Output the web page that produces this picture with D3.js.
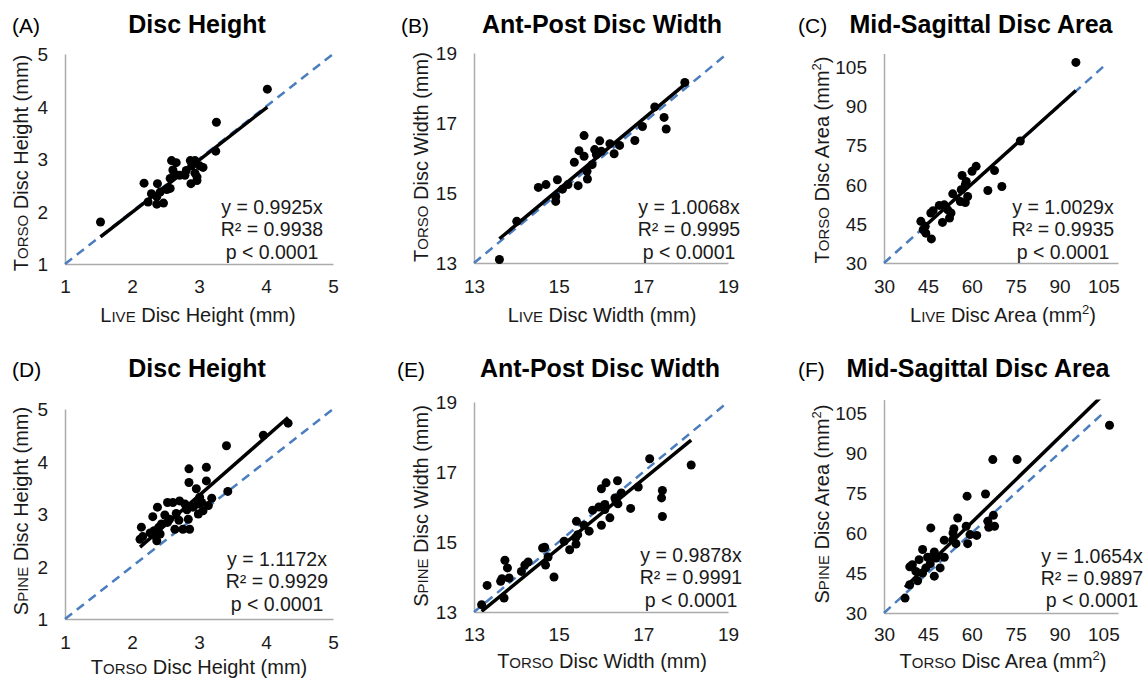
<!DOCTYPE html>
<html>
<head>
<meta charset="utf-8">
<script src="https://cdn.jsdelivr.net/npm/d3@7"></script>
<style>
  html, body { margin: 0; padding: 0; background: #fff; }
  svg { display: block; font-family: "Liberation Sans", Arial, sans-serif; }
</style>
</head>
<body>
<svg id="chart" width="1148" height="682"></svg>
<script>
// ---------- DATA ----------
const panelLetters = ["(A)", "(B)", "(C)", "(D)", "(E)", "(F)"];
const panelTitles = ["Disc Height", "Ant-Post Disc Width", "Mid-Sagittal Disc Area",
                     "Disc Height", "Ant-Post Disc Width", "Mid-Sagittal Disc Area"];
const slopes = [0.9925, 1.0068, 1.0029, 1.1172, 0.9878, 1.0654];
const rSquared = ["0.9938", "0.9995", "0.9935", "0.9929", "0.9991", "0.9897"];
const pText = "p < 0.0001";

const ticksHeight = [1, 2, 3, 4, 5];
const ticksWidth = [13, 15, 17, 19];
const ticksArea = [30, 45, 60, 75, 90, 105];
const domainHeight = [1, 5];
const domainWidth = [13, 19];
const domainArea = [30, 110];
const identityHeight = [1, 5];
const identityWidth = [13, 19];
const identityArea = [30, 105];

// (A) Live vs Torso disc height
const aLive  = [1.53, 2.18, 2.38, 2.24, 2.37, 2.47, 2.29, 2.42, 2.52, 2.57, 2.57, 2.61, 2.59, 2.66, 2.71, 2.79, 2.87, 2.94, 2.88, 2.97, 2.97, 3.01, 3.06, 2.89, 2.81, 2.37, 3.25, 3.26, 4.02, 2.63, 2.94];
const aTorso = [1.80, 2.54, 2.53, 2.18, 2.14, 2.16, 2.34, 2.37, 2.42, 2.44, 2.63, 2.79, 2.97, 2.93, 2.69, 2.69, 2.97, 2.97, 2.53, 2.66, 2.59, 2.87, 2.84, 2.87, 2.78, 2.28, 3.15, 3.70, 4.33, 2.72, 2.73];
// (B) Live vs Torso disc width
const bLive  = [13.60, 14.01, 14.52, 14.70, 14.97, 14.93, 14.93, 15.09, 15.22, 15.37, 15.46, 15.48, 15.60, 15.60, 15.67, 15.68, 15.79, 15.85, 15.89, 15.97, 16.01, 16.21, 16.31, 16.44, 16.80, 16.98, 17.27, 17.49, 17.54, 17.98];
const bTorso = [13.10, 14.19, 15.16, 15.24, 15.38, 14.90, 14.76, 15.11, 15.24, 15.88, 15.21, 16.21, 16.05, 16.64, 15.62, 15.40, 15.81, 16.24, 16.10, 16.49, 16.19, 16.41, 16.12, 16.36, 16.50, 16.90, 17.46, 17.16, 16.83, 18.16];
// (C) Live vs Torso disc area
const cLive  = [95.6, 76.6, 67.8, 65.5, 70.3, 61.5, 60.1, 56.7, 58.1, 57.8, 56.4, 58.6, 57.8, 56.1, 53.5, 52.9, 52.4, 50.6, 48.9, 50.0, 46.8, 46.0, 42.6, 43.4, 44.3, 46.2, 44.1, 51.8];
const cTorso = [106.6, 76.6, 65.3, 57.7, 59.2, 66.9, 65.0, 63.4, 61.1, 59.9, 58.0, 55.4, 53.1, 53.5, 56.4, 49.1, 47.2, 52.2, 52.0, 45.5, 50.0, 49.1, 45.9, 42.7, 41.4, 39.2, 44.0, 50.3];
// (D) Torso vs Spine disc height
const dTorso = [2.14, 2.12, 2.16, 2.31, 2.38, 2.33, 2.34, 2.37, 2.42, 2.44, 2.49, 2.53, 2.53, 2.61, 2.66, 2.71, 2.64, 2.76, 2.79, 2.85, 2.85, 2.84, 2.86, 2.96, 2.91, 2.98, 3.01, 2.99, 3.06, 3.11, 3.11, 3.14, 3.19, 3.41, 3.43, 3.96, 4.33, 2.27, 2.40, 2.56, 2.70, 2.82, 3.04];
const dSpine = [2.75, 2.52, 2.57, 2.95, 3.13, 2.68, 2.59, 2.49, 2.62, 2.81, 2.98, 2.84, 3.22, 3.22, 3.01, 3.25, 2.71, 2.71, 3.19, 3.86, 3.60, 2.90, 2.71, 3.48, 3.13, 3.19, 3.32, 3.00, 3.06, 3.89, 3.63, 3.16, 3.30, 4.30, 3.43, 4.50, 4.73, 2.64, 2.75, 2.90, 2.88, 3.08, 3.22];
// (E) Torso vs Spine disc width
const eTorso = [13.18, 13.31, 13.63, 13.73, 13.79, 13.83, 13.71, 14.12, 14.20, 14.28, 14.62, 14.67, 14.69, 14.75, 14.89, 15.13, 15.26, 15.41, 15.42, 15.45, 15.60, 15.72, 15.80, 16.01, 16.01, 16.12, 16.09, 16.09, 16.21, 16.33, 16.39, 16.40, 16.48, 16.70, 16.88, 17.15, 17.43, 17.45, 17.45, 18.13, 13.66, 15.40, 16.35, 15.95];
const eSpine = [13.21, 13.76, 13.88, 14.48, 14.26, 13.97, 13.40, 14.16, 14.34, 14.43, 14.83, 14.85, 14.34, 14.57, 14.00, 15.02, 14.78, 14.94, 15.59, 15.21, 15.48, 15.31, 15.91, 15.48, 16.52, 16.69, 16.07, 15.93, 15.69, 16.26, 16.75, 16.09, 16.40, 15.96, 16.57, 17.38, 16.26, 16.47, 15.73, 17.20, 13.95, 15.12, 16.18, 16.00];
// (F) Torso vs Spine disc area
const fTorso = [107.1, 67.2, 75.5, 58.4, 64.7, 46.0, 55.2, 58.1, 53.9, 53.6, 59.4, 61.7, 58.6, 54.6, 53.5, 50.6, 65.5, 65.8, 67.8, 67.4, 43.2, 39.7, 38.8, 42.0, 44.9, 47.2, 46.6, 47.8, 50.6, 49.2, 45.8, 44.3, 43.2, 41.5, 47.2, 38.8, 37.2, 40.9];
const fSpine = [100.4, 87.5, 87.5, 73.8, 74.6, 61.9, 65.6, 62.5, 61.6, 60.0, 59.4, 59.1, 56.0, 56.0, 57.5, 57.3, 64.4, 62.1, 62.5, 66.6, 53.8, 48.1, 47.3, 50.0, 50.9, 52.9, 51.3, 50.6, 50.9, 46.9, 48.5, 46.9, 45.0, 42.1, 43.8, 40.6, 35.6, 45.6];

// axis label text parts: [small-caps word, rest, has superscript]
const xLabels = [["Live", " Disc Height (mm", false], ["Live", " Disc Width (mm", false], ["Live", " Disc Area (mm", true],
                 ["Torso", " Disc Height (mm", false], ["Torso", " Disc Width (mm", false], ["Torso", " Disc Area (mm", true]];
const yLabels = [["Torso", " Disc Height (mm", false], ["Torso", " Disc Width (mm", false], ["Torso", " Disc Area (mm", true],
                 ["Spine", " Disc Height (mm", false], ["Spine", " Disc Width (mm", false], ["Spine", " Disc Area (mm", true]];

// ---------- LAYOUT ----------
const FONT = '"Liberation Sans", Arial, sans-serif';
const layout = [
  {px: [65, 333],  py: [264, 54],  titleX: 197, titleY: 33, letterX: 12,  letterY: 33, yLabX: 28,  yLabY: 163, xLabX: 198, xLabY: 322, xTickY: 293, annX: 272, annY: [214, 236, 259]},
  {px: [474, 728], py: [263, 53],  titleX: 602, titleY: 33, letterX: 401, letterY: 33, yLabX: 428, yLabY: 157, xLabX: 602, xLabY: 322, xTickY: 293, annX: 689, annY: [214, 236, 259]},
  {px: [884, 1118],py: [263, 53.5],titleX: 981, titleY: 33, letterX: 798, letterY: 33, yLabX: 829, yLabY: 160, xLabX: 1003,xLabY: 322, xTickY: 293, annX: 1063,annY: [214, 236, 259]},
  {px: [65, 333],  py: [619, 409], titleX: 197, titleY: 377, letterX: 12, letterY: 377, yLabX: 28,  yLabY: 511, xLabX: 199, xLabY: 674, xTickY: 649, annX: 277, annY: [566, 588, 611]},
  {px: [474, 728], py: [612, 402], titleX: 600, titleY: 377, letterX: 397, letterY: 377, yLabX: 428, yLabY: 506, xLabX: 602, xLabY: 668, xTickY: 641, annX: 691, annY: [562, 584, 607]},
  {px: [884, 1118],py: [613, 399.6],titleX: 978, titleY: 377, letterX: 798, letterY: 377, yLabX: 829, yLabY: 504, xLabX: 1003, xLabY: 668, xTickY: 641, annX: 1092, annY: [563, 585, 607]}
];

const xsData = [aLive, bLive, cLive, dTorso, eTorso, fTorso];
const ysData = [aTorso, bTorso, cTorso, dSpine, eSpine, fSpine];
const domains = [domainHeight, domainWidth, domainArea, domainHeight, domainWidth, domainArea];
const tickSets = [ticksHeight, ticksWidth, ticksArea, ticksHeight, ticksWidth, ticksArea];
const identities = [identityHeight, identityWidth, identityArea, identityHeight, identityWidth, identityArea];

const svg = d3.select("#chart");

function addLabel(sel, parts, big, small) {
  const word = parts[0].toUpperCase();
  sel.append("tspan").attr("font-size", big).text(word[0]);
  sel.append("tspan").attr("font-size", small).text(word.slice(1));
  sel.append("tspan").attr("font-size", big).text(parts[1]);
  if (parts[2]) {
    sel.append("tspan").attr("font-size", 13).attr("dy", -8).text("2");
    sel.append("tspan").attr("font-size", big).attr("dy", 8).text(")");
  } else {
    sel.append("tspan").attr("font-size", big).text(")");
  }
}

const fmt = d3.format("d");

layout.forEach((L, i) => {
  const x = d3.scaleLinear().domain(domains[i]).range(L.px);
  const y = d3.scaleLinear().domain(domains[i]).range(L.py);
  const g = svg.append("g");
  const clipId = "clip" + i;
  svg.append("clipPath").attr("id", clipId).append("rect")
    .attr("x", L.px[0]).attr("y", L.py[1])
    .attr("width", L.px[1] - L.px[0]).attr("height", L.py[0] - L.py[1]);

  // axes (lines only, no tick marks)
  const xAxis = d3.axisBottom(x).tickValues(tickSets[i]).tickFormat(fmt).tickSize(0).tickPadding(0);
  const yAxis = d3.axisLeft(y).tickValues(tickSets[i]).tickFormat(fmt).tickSize(0).tickPadding(0);
  const gx = g.append("g").attr("transform", `translate(0,${L.py[0]})`).call(xAxis);
  const gy = g.append("g").attr("transform", `translate(${L.px[0]},0)`).call(yAxis);
  [gx, gy].forEach(a => {
    a.select(".domain").attr("stroke", "#ababab").attr("stroke-width", 1.5);
    a.selectAll("text").attr("font-family", FONT).attr("font-size", 19).attr("fill", "#1a1a1a");
  });
  gx.selectAll("text").attr("dy", null).attr("y", L.xTickY - L.py[0]);
  gy.selectAll("text").attr("x", -17).attr("dy", "0.35em").attr("text-anchor", "end");

  // identity dashed line
  const idv = identities[i];
  g.append("line")
    .attr("x1", x(idv[0])).attr("y1", y(idv[0]))
    .attr("x2", x(idv[1])).attr("y2", y(idv[1]))
    .attr("stroke", "#4a7ebf").attr("stroke-width", 2.5)
    .attr("stroke-dasharray", "9,6");

  // points
  const pts = xsData[i].map((v, k) => [v, ysData[i][k]]);
  g.append("g").selectAll("circle").data(pts).join("circle")
    .attr("cx", d => x(d[0])).attr("cy", d => y(d[1])).attr("r", 4.5).attr("fill", "#000");

  // trend line y = m x through data range
  const ext = d3.extent(xsData[i]);
  g.append("line").attr("clip-path", `url(#${clipId})`)
    .attr("x1", x(ext[0])).attr("y1", y(slopes[i] * ext[0]))
    .attr("x2", x(ext[1])).attr("y2", y(slopes[i] * ext[1]))
    .attr("stroke", "#000").attr("stroke-width", 3.5);

  // titles
  svg.append("text").attr("x", L.titleX).attr("y", L.titleY)
    .attr("text-anchor", "middle").attr("font-family", FONT)
    .attr("font-size", 25).attr("font-weight", "bold").text(panelTitles[i]);
  svg.append("text").attr("x", L.letterX).attr("y", L.letterY)
    .attr("font-family", FONT).attr("font-size", 21).text(panelLetters[i]);

  // axis titles
  const xt = svg.append("text").attr("x", L.xLabX).attr("y", L.xLabY)
    .attr("text-anchor", "middle").attr("font-family", FONT).attr("fill", "#1a1a1a");
  addLabel(xt, xLabels[i], 20, 15);
  const yt = svg.append("text").attr("transform", `translate(${L.yLabX},${L.yLabY}) rotate(-90)`)
    .attr("text-anchor", "middle").attr("font-family", FONT).attr("fill", "#1a1a1a");
  addLabel(yt, yLabels[i], 20, 15);

  // annotation
  const lines = [`y = ${slopes[i].toFixed(4)}x`, `R² = ${rSquared[i]}`, pText];
  lines.forEach((t, k) => {
    svg.append("text").attr("x", L.annX).attr("y", L.annY[k])
      .attr("text-anchor", "middle").attr("font-family", FONT)
      .attr("font-size", 19.5).attr("fill", "#1a1a1a").text(t);
  });
});
</script>
</body>
</html>
